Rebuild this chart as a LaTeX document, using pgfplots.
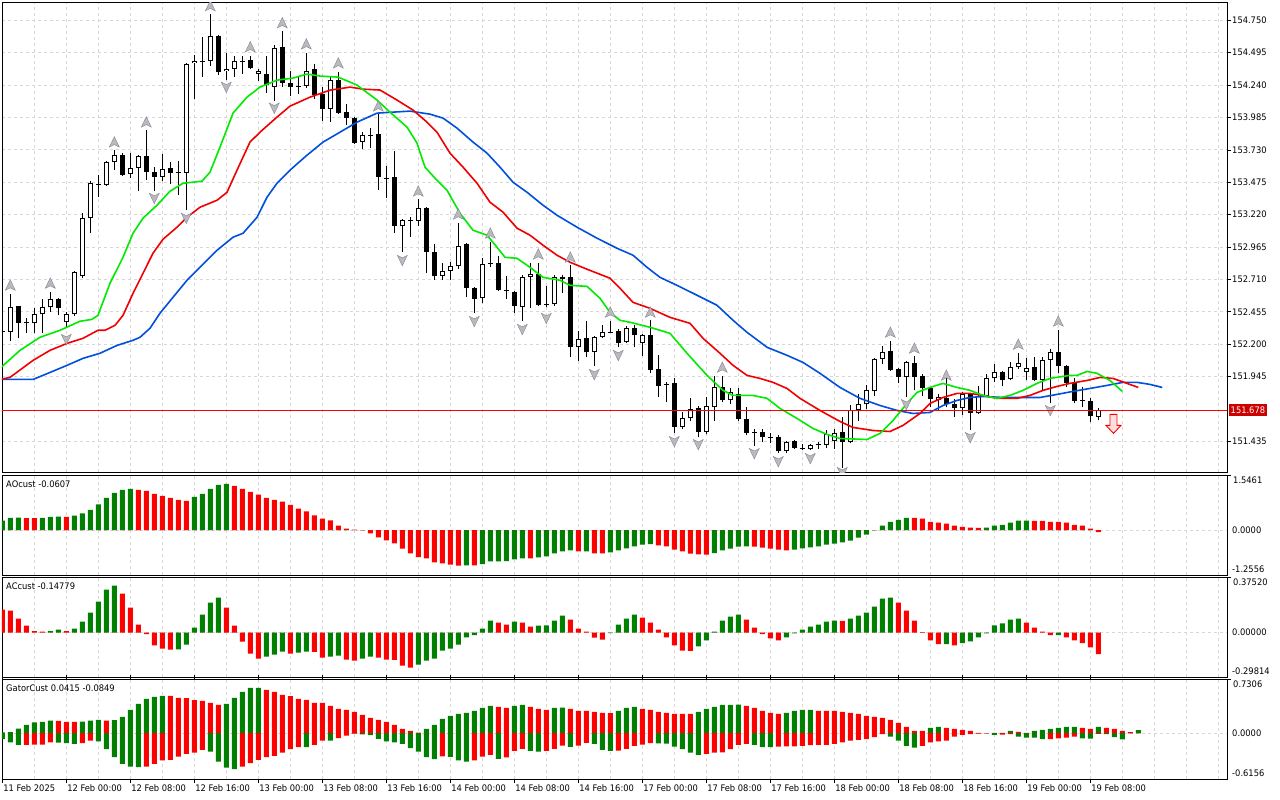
\documentclass[border=0pt]{standalone}
\usepackage{pgfplots}
\pgfplotsset{compat=1.18}
\usepackage{pgfplotstable}
\usepackage{fontspec}
\setmainfont{DejaVu Sans}[FakeStretch=0.925]
\newcommand{\lbl}{\fontsize{9pt}{10.8pt}\selectfont}
\definecolor{hgreen}{RGB}{0,128,0}
\definecolor{hred}{RGB}{255,0,0}
\definecolor{lipsc}{RGB}{0,235,0}
\definecolor{teethc}{RGB}{240,0,0}
\definecolor{jawc}{RGB}{0,80,220}
\definecolor{gridc}{RGB}{215,215,215}
\definecolor{fracfill}{RGB}{185,185,192}
\definecolor{fracdraw}{RGB}{135,135,142}
\definecolor{pricebox}{RGB}{205,0,0}

\pgfdeclareplotmark{fup}{%
 \pgfpathmoveto{\pgfqpoint{0pt}{5.5pt}}%
 \pgfpathlineto{\pgfqpoint{5pt}{-5pt}}%
 \pgfpathlineto{\pgfqpoint{0pt}{-2.5pt}}%
 \pgfpathlineto{\pgfqpoint{-5pt}{-5pt}}%
 \pgfpathclose
 \pgfusepathqfillstroke}
\pgfdeclareplotmark{fdown}{%
 \pgfpathmoveto{\pgfqpoint{0pt}{-5.5pt}}%
 \pgfpathlineto{\pgfqpoint{5pt}{5pt}}%
 \pgfpathlineto{\pgfqpoint{0pt}{2.5pt}}%
 \pgfpathlineto{\pgfqpoint{-5pt}{5pt}}%
 \pgfpathclose
 \pgfusepathqfillstroke}
\pgfdeclareplotmark{sigdown}{%
 \pgfpathmoveto{\pgfqpoint{-3.5pt}{9.5pt}}%
 \pgfpathlineto{\pgfqpoint{3.5pt}{9.5pt}}%
 \pgfpathlineto{\pgfqpoint{3.5pt}{-1.5pt}}%
 \pgfpathlineto{\pgfqpoint{7.5pt}{-1.5pt}}%
 \pgfpathlineto{\pgfqpoint{0pt}{-9.5pt}}%
 \pgfpathlineto{\pgfqpoint{-7.5pt}{-1.5pt}}%
 \pgfpathlineto{\pgfqpoint{-3.5pt}{-1.5pt}}%
 \pgfpathclose
 \pgfusepathqfillstroke}

\pgfplotstableread{
k o h l c
0 152.293 152.330 152.260 152.293
1 152.293 152.592 152.222 152.490
2 152.498 152.498 152.246 152.364
3 152.364 152.404 152.285 152.372
4 152.364 152.482 152.285 152.435
5 152.435 152.553 152.285 152.490
6 152.490 152.608 152.451 152.553
7 152.553 152.561 152.427 152.482
8 152.372 152.451 152.333 152.435
9 152.435 152.774 152.419 152.766
10 152.734 153.231 152.719 153.192
11 153.192 153.483 153.073 153.467
12 153.460 153.531 153.357 153.452
13 153.452 153.641 153.444 153.633
14 153.633 153.728 153.570 153.688
15 153.688 153.704 153.523 153.531
16 153.538 153.704 153.507 153.586
17 153.586 153.688 153.404 153.680
18 153.680 153.885 153.491 153.554
19 153.554 153.594 153.404 153.515
20 153.515 153.696 153.483 153.578
21 153.586 153.633 153.460 153.546
22 153.554 153.641 153.373 153.550
23 153.550 154.413 153.255 154.409
24 154.413 154.476 154.130 154.429
25 154.429 154.618 154.303 154.425
26 154.429 154.800 154.390 154.626
27 154.626 154.634 154.319 154.342
28 154.350 154.492 154.279 154.366
29 154.366 154.469 154.303 154.429
30 154.429 154.469 154.327 154.425
31 154.437 154.469 154.366 154.374
32 154.327 154.366 154.272 154.350
33 154.327 154.469 154.177 154.240
34 154.224 154.555 154.114 154.532
35 154.540 154.666 154.224 154.256
36 154.256 154.350 154.153 154.224
37 154.232 154.303 154.169 154.228
38 154.232 154.492 154.216 154.350
39 154.366 154.406 154.130 154.161
40 154.169 154.224 153.956 154.051
41 154.051 154.303 153.948 154.279
42 154.279 154.342 154.011 154.019
43 154.027 154.090 153.925 153.980
44 153.980 153.988 153.775 153.783
45 153.791 153.869 153.735 153.846
46 153.846 153.901 153.743 153.842
47 153.854 154.019 153.412 153.515
48 153.507 153.601 153.349 153.503
49 153.515 153.720 153.073 153.128
50 153.128 153.184 152.924 153.176
51 153.176 153.199 153.042 153.172
52 153.168 153.341 153.128 153.270
53 153.270 153.278 152.758 152.924
54 152.924 152.987 152.703 152.734
55 152.734 152.837 152.703 152.774
56 152.774 152.845 152.703 152.813
57 152.813 153.152 152.790 152.971
58 152.987 152.995 152.569 152.640
59 152.640 152.648 152.443 152.553
60 152.561 152.876 152.521 152.829
61 152.837 153.002 152.805 152.833
62 152.837 152.892 152.616 152.624
63 152.624 152.734 152.553 152.620
64 152.608 152.616 152.443 152.498
65 152.490 152.742 152.380 152.726
66 152.726 152.837 152.482 152.750
67 152.750 152.837 152.498 152.506
68 152.514 152.655 152.490 152.510
69 152.514 152.742 152.498 152.726
70 152.711 152.742 152.600 152.726
71 152.726 152.821 152.096 152.175
72 152.175 152.301 152.064 152.238
73 152.246 152.380 152.096 152.135
74 152.135 152.261 152.025 152.254
75 152.254 152.348 152.246 152.293
76 152.293 152.380 152.285 152.289
77 152.301 152.317 152.175 152.206
78 152.214 152.341 152.206 152.325
79 152.325 152.348 152.175 152.269
80 152.206 152.277 152.104 152.269
81 152.269 152.388 151.970 151.993
82 152.001 152.112 151.780 151.867
83 151.883 151.899 151.741 151.879
84 151.891 151.930 151.497 151.544
85 151.544 151.662 151.528 151.615
86 151.615 151.773 151.591 151.686
87 151.694 151.709 151.465 151.512
88 151.512 151.780 151.489 151.709
89 151.702 151.946 151.591 151.859
90 151.859 151.946 151.741 151.757
91 151.757 151.851 151.725 151.820
92 151.804 151.851 151.591 151.607
93 151.607 151.702 151.481 151.497
94 151.505 151.528 151.394 151.501
95 151.505 151.528 151.426 151.465
96 151.465 151.497 151.418 151.461
97 151.465 151.481 151.339 151.355
98 151.355 151.434 151.339 151.426
99 151.434 151.442 151.371 151.386
100 151.378 151.410 151.363 151.374
101 151.371 151.410 151.363 151.402
102 151.402 151.426 151.378 151.406
103 151.402 151.520 151.386 151.489
104 151.434 151.528 151.378 151.497
105 151.505 151.623 151.221 151.426
106 151.426 151.717 151.418 151.678
107 151.678 151.804 151.591 151.725
108 151.725 151.875 151.686 151.836
109 151.828 152.088 151.788 152.080
110 152.080 152.183 152.041 152.135
111 152.143 152.222 151.985 151.993
112 152.001 152.009 151.891 151.938
113 151.938 152.064 151.780 152.056
114 152.049 152.104 151.836 151.938
115 151.946 151.962 151.788 151.851
116 151.851 151.859 151.702 151.765
117 151.757 151.804 151.678 151.780
118 151.773 151.938 151.702 151.725
119 151.725 151.765 151.623 151.694
120 151.694 151.820 151.639 151.804
121 151.804 151.812 151.520 151.654
122 151.654 151.867 151.647 151.788
123 151.788 151.962 151.780 151.930
124 151.930 152.041 151.899 151.977
125 151.977 151.985 151.867 151.914
126 151.922 152.056 151.914 152.017
127 152.017 152.128 152.001 152.049
128 151.977 152.088 151.914 152.009
129 152.017 152.096 151.907 151.914
130 151.914 152.096 151.828 152.072
131 152.072 152.159 151.733 152.135
132 152.135 152.309 151.970 152.025
133 152.025 152.033 151.859 151.891
134 151.891 151.930 151.733 151.749
135 151.757 151.859 151.702 151.753
136 151.749 151.773 151.584 151.631
137 151.629 151.694 151.599 151.678
}\candles

\pgfplotstableread{
k v g
0 0.267 1
1 0.352 1
2 0.355 1
3 0.345 0
4 0.340 0
5 0.350 1
6 0.380 1
7 0.385 1
8 0.380 0
9 0.410 1
10 0.476 1
11 0.580 1
12 0.733 1
13 0.924 1
14 1.067 1
15 1.152 1
16 1.181 1
17 1.152 0
18 1.124 0
19 1.038 0
20 0.981 0
21 0.924 0
22 0.867 0
23 0.838 0
24 0.952 1
25 1.038 1
26 1.181 1
27 1.295 1
28 1.324 1
29 1.267 0
30 1.181 0
31 1.095 0
32 1.010 0
33 0.924 0
34 0.867 0
35 0.810 0
36 0.724 0
37 0.610 0
38 0.533 0
39 0.419 0
40 0.324 0
41 0.276 0
42 0.124 0
43 0.038 0
44 0.010 0
45 -0.010 0
46 -0.095 0
47 -0.210 0
48 -0.295 0
49 -0.381 0
50 -0.533 0
51 -0.667 0
52 -0.771 0
53 -0.810 0
54 -0.924 0
55 -0.952 0
56 -0.990 0
57 -1.019 0
58 -1.010 1
59 -1.011 0
60 -0.971 1
61 -0.895 1
62 -0.893 1
63 -0.890 1
64 -0.838 1
65 -0.810 1
66 -0.812 0
67 -0.781 1
68 -0.752 1
69 -0.667 1
70 -0.610 1
71 -0.581 1
72 -0.610 0
73 -0.608 1
74 -0.667 0
75 -0.668 0
76 -0.638 1
77 -0.581 1
78 -0.524 1
79 -0.467 1
80 -0.419 1
81 -0.400 1
82 -0.438 0
83 -0.467 0
84 -0.562 0
85 -0.610 0
86 -0.676 0
87 -0.695 0
88 -0.705 0
89 -0.657 1
90 -0.581 1
91 -0.533 1
92 -0.476 1
93 -0.467 1
94 -0.476 0
95 -0.505 0
96 -0.533 0
97 -0.562 0
98 -0.581 0
99 -0.562 1
100 -0.524 1
101 -0.495 1
102 -0.467 1
103 -0.419 1
104 -0.390 1
105 -0.352 1
106 -0.305 1
107 -0.219 1
108 -0.133 1
109 -0.010 1
110 0.124 1
111 0.238 1
112 0.295 1
113 0.352 1
114 0.350 0
115 0.324 0
116 0.238 0
117 0.210 0
118 0.181 0
119 0.124 0
120 0.095 0
121 0.067 0
122 0.065 0
123 0.067 1
124 0.124 1
125 0.152 1
126 0.210 1
127 0.267 1
128 0.270 1
129 0.265 0
130 0.260 0
131 0.238 0
132 0.235 0
133 0.210 0
134 0.152 0
135 0.124 0
136 0.038 0
137 -0.0607 0
}\aodata

\pgfplotstableread{
k v g
0 0.158 0
1 0.151 0
2 0.096 0
3 0.048 0
4 0.011 0
5 0.007 0
6 0.011 1
7 0.021 1
8 0.011 0
9 0.027 1
10 0.076 1
11 0.137 1
12 0.213 1
13 0.295 1
14 0.323 1
15 0.268 0
16 0.172 0
17 0.055 0
18 -0.011 0
19 -0.087 0
20 -0.110 0
21 -0.117 0
22 -0.115 1
23 -0.082 1
24 0.034 1
25 0.124 1
26 0.206 1
27 0.240 1
28 0.172 0
29 0.048 0
30 -0.062 0
31 -0.144 0
32 -0.179 0
33 -0.165 1
34 -0.151 1
35 -0.131 1
36 -0.144 0
37 -0.137 1
38 -0.131 1
39 -0.133 0
40 -0.172 0
41 -0.165 1
42 -0.158 1
43 -0.186 0
44 -0.192 0
45 -0.179 1
46 -0.165 1
47 -0.172 0
48 -0.186 0
49 -0.187 0
50 -0.227 0
51 -0.240 0
52 -0.220 1
53 -0.192 1
54 -0.179 1
55 -0.124 1
56 -0.110 1
57 -0.082 1
58 -0.032 1
59 -0.018 1
60 0.027 1
61 0.082 1
62 0.069 0
63 0.055 0
64 0.076 1
65 0.069 0
66 0.041 0
67 0.048 1
68 0.049 1
69 0.082 1
70 0.117 1
71 0.089 0
72 0.027 0
73 0.007 0
74 -0.034 0
75 -0.048 0
76 -0.004 1
77 0.055 1
78 0.096 1
79 0.124 1
80 0.103 0
81 0.069 0
82 0.021 0
83 -0.032 0
84 -0.087 0
85 -0.124 0
86 -0.125 0
87 -0.094 1
88 -0.053 1
89 0.007 1
90 0.082 1
91 0.110 1
92 0.124 1
93 0.089 0
94 0.034 0
95 -0.011 0
96 -0.039 0
97 -0.053 0
98 -0.032 1
99 -0.005 1
100 0.021 1
101 0.041 1
102 0.055 1
103 0.076 1
104 0.082 1
105 0.081 0
106 0.096 1
107 0.117 1
108 0.137 1
109 0.179 1
110 0.234 1
111 0.240 1
112 0.206 0
113 0.151 0
114 0.082 0
115 0.004 0
116 -0.053 0
117 -0.080 0
118 -0.079 1
119 -0.087 0
120 -0.073 1
121 -0.060 1
122 -0.032 1
123 -0.005 1
124 0.050 1
125 0.064 1
126 0.089 1
127 0.096 1
128 0.069 0
129 0.034 0
130 0.007 0
131 -0.018 0
132 -0.017 1
133 -0.032 0
134 -0.053 0
135 -0.073 0
136 -0.101 0
137 -0.14779 0
}\acdata

\pgfplotstableread{
k u ug d dg
0 0.010 1 -0.082 1
1 0.014 1 -0.128 1
2 0.064 1 -0.160 1
3 0.114 1 -0.159 0
4 0.147 1 -0.158 0
5 0.156 1 -0.157 0
6 0.174 1 -0.128 0
7 0.169 0 -0.130 1
8 0.156 0 -0.137 1
9 0.155 0 -0.147 1
10 0.158 1 -0.137 0
11 0.174 1 -0.101 0
12 0.183 1 -0.114 1
13 0.174 0 -0.220 1
14 0.178 1 -0.330 1
15 0.224 1 -0.421 1
16 0.320 1 -0.458 1
17 0.403 1 -0.467 1
18 0.472 1 -0.458 0
19 0.499 1 -0.421 0
20 0.513 1 -0.375 0
21 0.512 0 -0.366 0
22 0.485 0 -0.321 0
23 0.481 0 -0.284 0
24 0.453 0 -0.266 0
25 0.444 0 -0.229 0
26 0.417 0 -0.252 1
27 0.389 0 -0.389 1
28 0.403 1 -0.472 1
29 0.485 1 -0.494 1
30 0.568 1 -0.458 0
31 0.623 1 -0.412 0
32 0.624 1 -0.366 0
33 0.595 0 -0.330 0
34 0.568 0 -0.311 0
35 0.527 0 -0.266 0
36 0.508 0 -0.220 0
37 0.472 0 -0.192 0
38 0.458 0 -0.193 1
39 0.417 0 -0.160 0
40 0.416 0 -0.101 0
41 0.375 0 -0.102 1
42 0.334 0 -0.069 0
43 0.320 0 -0.032 0
44 0.293 0 -0.005 0
45 0.252 0 -0.015 1
46 0.211 0 -0.025 1
47 0.183 0 -0.078 1
48 0.156 0 -0.114 1
49 0.114 0 -0.128 1
50 0.060 0 -0.147 1
51 0.032 0 -0.206 1
52 0.008 0 -0.252 1
53 0.060 1 -0.330 1
54 0.114 1 -0.357 1
55 0.197 1 -0.320 0
56 0.238 1 -0.325 1
57 0.266 1 -0.375 1
58 0.279 1 -0.389 1
59 0.307 1 -0.375 0
60 0.348 1 -0.321 0
61 0.375 1 -0.298 0
62 0.362 0 -0.353 1
63 0.348 0 -0.334 0
64 0.375 1 -0.243 0
65 0.389 1 -0.215 0
66 0.362 0 -0.243 1
67 0.334 0 -0.252 1
68 0.320 0 -0.243 0
69 0.348 1 -0.215 0
70 0.350 1 -0.170 0
71 0.334 0 -0.188 1
72 0.307 0 -0.170 0
73 0.305 0 -0.133 0
74 0.293 0 -0.146 1
75 0.279 0 -0.229 1
76 0.277 0 -0.243 1
77 0.307 1 -0.240 0
78 0.348 1 -0.215 0
79 0.362 1 -0.174 0
80 0.334 0 -0.156 0
81 0.320 0 -0.137 0
82 0.293 0 -0.140 1
83 0.279 0 -0.142 1
84 0.266 0 -0.183 1
85 0.265 0 -0.220 1
86 0.264 0 -0.266 1
87 0.293 1 -0.297 1
88 0.334 1 -0.284 0
89 0.362 1 -0.266 0
90 0.389 1 -0.265 0
91 0.390 1 -0.220 0
92 0.391 1 -0.160 0
93 0.375 0 -0.147 0
94 0.348 0 -0.160 1
95 0.307 0 -0.192 1
96 0.279 0 -0.193 1
97 0.266 0 -0.183 0
98 0.279 1 -0.182 0
99 0.307 1 -0.181 0
100 0.320 1 -0.174 0
101 0.321 1 -0.165 0
102 0.307 0 -0.160 0
103 0.306 0 -0.159 0
104 0.305 0 -0.147 0
105 0.293 0 -0.128 0
106 0.279 0 -0.101 0
107 0.266 0 -0.092 0
108 0.238 0 -0.082 0
109 0.224 0 -0.055 0
110 0.211 0 -0.014 0
111 0.183 0 -0.046 1
112 0.142 0 -0.101 1
113 0.087 0 -0.174 1
114 0.032 0 -0.197 1
115 0.031 0 -0.174 0
116 0.073 1 -0.128 0
117 0.087 1 -0.114 0
118 0.073 0 -0.101 0
119 0.060 0 -0.046 0
120 0.046 0 -0.023 0
121 0.032 0 -0.014 0
122 0.005 0 -0.005 0
123 0.002 0 -0.003 0
124 0.004 1 -0.023 1
125 0.005 1 -0.020 0
126 0.032 1 -0.014 0
127 0.018 0 -0.046 1
128 0.005 0 -0.060 1
129 0.032 1 -0.061 1
130 0.046 1 -0.082 1
131 0.060 1 -0.081 0
132 0.073 1 -0.073 0
133 0.087 1 -0.060 0
134 0.088 1 -0.046 0
135 0.073 0 -0.073 1
136 0.060 0 -0.074 1
137 0.087 1 -0.009 0
138 0.073 0 -0.014 1
139 0.060 0 -0.055 1
140 0.030 0 -0.085 1
141 0.014 0 0 0
142 0.0415 1 0 0
}\gatordata

\pgfplotsset{
  panel/.style={
    scale only axis, width=1225pt, xmin=-0.0375, xmax=153.09,
    axis line style={black, line width=0.8pt},
    xtick={4,8,...,152}, xticklabels={}, xtick style={draw=none},
    xmajorgrids, ymajorgrids,
    major grid style={gridc, dash pattern=on 3pt off 3pt, line width=0.7pt},
    ytick pos=right, yticklabel pos=right, tick align=outside, major tick length=4pt,
    ytick style={black, line width=0.6pt},
    tick label style={font=\lbl},
    yticklabel style={anchor=west, inner sep=1pt},
    clip mode=individual,
  },
  sub/.style={ytick style={draw=none}, extra y ticks={#1}, extra y tick labels={},
    extra y tick style={grid=none, ytick style={draw=black, line width=0.6pt}}},
  hist/.style={ybar, bar width=5pt, bar shift=0pt},
  zline/.style={gridc, dash pattern=on 3pt off 3pt, line width=0.7pt, forget plot},
  ebar/.style 2 args={draw=none, no markers, forget plot,
    error bars/.cd, y dir=plus, y explicit, error mark=none,
    error bar style={draw=#1, line width=#2}},
}

\begin{document}
\begin{tikzpicture}[x=1pt,y=1pt]
\fill[white] (0,0) rectangle (1280,800);
\path[use as bounding box] (0,0) rectangle (1280,800);

% ---------------- main price panel ----------------
\begin{axis}[panel, at={(2pt,327.5pt)}, anchor=south west, height=470pt,
  ymin=151.1892, ymax=154.8904,
  ytick={151.435,151.945,152.200,152.455,152.710,152.965,153.220,153.475,153.730,153.985,154.240,154.495,154.750},
  yticklabels={151.435,151.945,152.200,152.455,152.710,152.965,153.220,153.475,153.730,153.985,154.240,154.495,154.750},
  clip marker paths=true]
% wicks
\addplot[ebar={black}{1pt}]
  table[x=k, y=l, y error plus expr={\thisrow{h}-\thisrow{l}}] {\candles};
% bodies (black)
\addplot[ebar={black}{5pt}]
  table[x=k, y expr={min(\thisrow{o},\thisrow{c})}, y error plus expr={max(abs(\thisrow{c}-\thisrow{o}),0.0079)}] {\candles};
% bull bodies (white inside)
\addplot[ebar={white}{3pt}]
  table[x=k, y expr={\thisrow{o}+0.0079}, y error plus expr={max(\thisrow{c}-\thisrow{o}-0.0158,0)}] {\candles};

% Alligator: jaw (blue)
\addplot[jawc, line width=1.6pt, line join=round] coordinates {
(-0.29,151.922) (3.84,151.922) (5.96,151.977) (8.09,152.033) (10.09,152.088) (12.21,152.128)
(14.34,152.190) (16.34,152.230) (17.21,152.254) (18.46,152.325) (19.71,152.443) (21.34,152.569)
(23.09,152.703) (24.71,152.805) (26.84,152.939) (28.84,153.042) (30.09,153.073) (31.84,153.199)
(33.09,153.357) (34.34,153.467) (35.96,153.570) (38.09,153.688) (40.09,153.791) (42.21,153.869)
(44.34,153.948) (46.84,154.019) (48.84,154.027) (50.96,154.035) (53.46,154.011) (55.09,153.980)
(56.84,153.901) (58.84,153.791) (60.59,153.704) (62.21,153.594) (63.84,153.475) (65.59,153.396)
(67.59,153.294) (69.34,153.215) (71.84,153.121) (74.34,153.034) (76.84,152.955) (78.84,152.900)
(80.59,152.805) (82.21,152.726) (84.34,152.663) (86.84,152.585) (89.34,152.506) (91.34,152.388)
(93.09,152.293) (95.59,152.175) (98.09,152.112) (100.09,152.056) (102.21,151.970) (104.71,151.859)
(107.21,151.773) (109.71,151.717) (111.84,151.678) (113.84,151.654) (115.96,151.662) (117.59,151.717)
(119.34,151.757) (120.96,151.780) (122.59,151.788) (125.09,151.780) (127.59,151.780) (129.71,151.780)
(131.84,151.804) (133.84,151.828) (135.96,151.851) (138.09,151.875) (140.09,151.899) (141.84,151.899)
(143.46,151.883) (145,151.859)};
% teeth (red)
\addplot[teethc, line width=1.6pt, line join=round] coordinates {
(-0.29,151.922) (0.96,151.938) (3.84,152.072) (5.96,152.151) (8.09,152.206) (10.09,152.246)
(11.96,152.309) (12.84,152.309) (14.09,152.348) (15.09,152.427) (16.34,152.600) (17.59,152.758)
(18.84,152.916) (20.09,153.026) (21.84,153.121) (23.09,153.199) (24.71,153.278) (26.84,153.333)
(28.09,153.396) (29.34,153.570) (30.96,153.791) (32.21,153.869) (34.34,153.988) (35.96,154.074)
(38.46,154.145) (40.96,154.200) (43.46,154.224) (45.09,154.208) (47.21,154.201) (49.34,154.122)
(51.34,154.043) (53.09,153.948) (54.34,153.869) (55.96,153.704) (57.59,153.594) (59.34,153.467)
(60.96,153.318) (62.59,153.239) (64.34,153.113) (65.96,153.058) (67.59,152.979) (69.34,152.900)
(70.96,152.845) (73.09,152.790) (74.71,152.750) (75.96,152.719) (77.21,152.640) (78.84,152.529)
(80.96,152.482) (83.46,152.411) (85.96,152.364) (87.59,152.246) (89.71,152.128) (91.34,152.033)
(93.09,151.954) (94.71,151.930) (96.34,151.899) (98.09,151.851) (99.71,151.773) (102.21,151.678)
(104.71,151.591) (106.34,151.544) (108.84,151.520) (110.96,151.512) (112.59,151.560) (114.71,151.654)
(115.96,151.733) (117.59,151.780) (119.34,151.812) (120.96,151.812) (122.59,151.796) (124.34,151.773)
(126.84,151.773) (128.46,151.796) (130.09,151.836) (131.84,151.867) (133.46,151.891) (135.59,151.914)
(137.21,151.938) (138.84,151.930) (140.59,151.891) (142,151.859)};
% lips (green)
\addplot[lipsc, line width=1.6pt, line join=round] coordinates {
(-0.29,152.009) (2.21,152.151) (4.71,152.254) (7.21,152.309) (9.71,152.380) (11.21,152.395)
(11.96,152.427) (13.46,152.679) (15.09,152.884) (16.34,153.073) (17.59,153.192) (19.34,153.294)
(20.96,153.404) (22.59,153.467) (24.96,153.483) (25.96,153.554) (27.21,153.751) (28.84,154.019)
(30.59,154.145) (32.21,154.224) (34.34,154.279) (36.34,154.295) (38.09,154.327) (39.71,154.311)
(41.96,154.303) (44.34,154.240) (46.84,154.122) (48.46,154.027) (50.59,153.909) (51.84,153.783)
(52.84,153.594) (54.09,153.507) (55.59,153.412) (57.21,153.231) (58.84,153.097) (60.59,153.058)
(61.84,152.963) (62.84,152.884) (64.34,152.876) (65.96,152.805) (67.59,152.726) (69.71,152.703)
(70.96,152.663) (73.09,152.655) (74.71,152.561) (75.96,152.451) (77.21,152.388) (78.46,152.372)
(80.96,152.333) (83.46,152.285) (85.59,152.128) (88.09,151.954) (90.09,151.836) (91.34,151.796)
(93.84,151.796) (95.59,151.773) (97.21,151.694) (99.34,151.615) (101.34,151.536) (103.09,151.489)
(104.71,151.457) (108.09,151.449) (109.71,151.497) (111.34,151.599) (113.09,151.733) (114.34,151.820)
(115.96,151.859) (117.59,151.891) (119.34,151.859) (120.96,151.836) (122.59,151.796) (124.34,151.773)
(125.96,151.796) (127.59,151.836) (129.34,151.891) (130.96,151.930) (133.46,151.954) (134.34,151.954)
(135.59,151.985) (136.84,151.970) (138.46,151.914) (140,151.828)};

% fractal arrows
\addplot[only marks, mark=fup, mark options={fill=fracfill, draw=fracdraw, line width=0.4pt}] coordinates {
(1,152.663) (6,152.679) (14,153.791) (18,153.948) (26,154.863) (31,154.540) (35,154.729) (38,154.563)
(42,154.413) (47,154.074) (52,153.404) (57,153.223) (61,153.073) (67,152.908) (71,152.884) (76,152.451)
(81,152.451) (90,152.017) (111,152.293) (114,152.167) (118,151.954) (127,152.198) (132,152.380)};
\addplot[only marks, mark=fdown, mark options={fill=fracfill, draw=fracdraw, line width=0.4pt}] coordinates {
(8,152.238) (19,153.349) (23,153.192) (28,154.224) (34,154.059) (50,152.860) (59,152.380) (65,152.317)
(68,152.404) (74,151.962) (77,152.112) (84,151.434) (87,151.410) (94,151.339) (97,151.276) (101,151.300)
(105,151.190) (113,151.725) (121,151.465) (131,151.678)};

% current price line
\addplot[red, line width=0.8pt] coordinates {(-1,151.678) (160,151.678)};
% signal arrow
\addplot[only marks, mark=sigdown, mark options={fill=red!12, draw=red, line width=0.9pt}] coordinates {(138.9,151.572)};

\node[fill=pricebox, text=white, anchor=west, inner xsep=2pt, inner ysep=0pt,
  minimum height=12pt, font=\lbl, xshift=1.5pt] at (axis cs:153.09,151.678) {151.678};
\end{axis}

% ---------------- AO panel ----------------
\begin{axis}[panel, sub=1.5747, hist, at={(2pt,225pt)}, anchor=south west, height=100pt,
  ymin=-1.2842, ymax=1.5747, ytick={0}, yticklabels={0.0000}]
\addplot[hist, fill=hgreen, draw=none] table[x=k, y expr={\thisrow{v}*\thisrow{g}}] {\aodata};
\addplot[hist, fill=hred, draw=none] table[x=k, y expr={\thisrow{v}*(1-\thisrow{g})}] {\aodata};
\addplot[zline] coordinates {(-1,0) (160,0)};
\node[anchor=west, inner sep=0pt, font=\lbl, xshift=4pt, yshift=-9.3pt] at (rel axis cs:0,1) {AOcust -0.0607};
\node[anchor=west, inner sep=0pt, font=\lbl, xshift=6pt] at (rel axis cs:1,0.943) {1.5461};
\node[anchor=west, inner sep=0pt, font=\lbl, xshift=5pt] at (rel axis cs:1,0.057) {-1.2556};
\end{axis}

% ---------------- AC panel ----------------
\begin{axis}[panel, sub=0.38207, hist, at={(2pt,123pt)}, anchor=south west, height=100pt,
  ymin=-0.30501, ymax=0.38207, ytick={0}, yticklabels={0.00000}]
\addplot[hist, fill=hgreen, draw=none] table[x=k, y expr={\thisrow{v}*\thisrow{g}}] {\acdata};
\addplot[hist, fill=hred, draw=none] table[x=k, y expr={\thisrow{v}*(1-\thisrow{g})}] {\acdata};
\addplot[zline] coordinates {(-1,0) (160,0)};
\node[anchor=west, inner sep=0pt, font=\lbl, xshift=4pt, yshift=-9.3pt] at (rel axis cs:0,1) {ACcust -0.14779};
\node[anchor=west, inner sep=0pt, font=\lbl, xshift=6pt] at (rel axis cs:1,0.943) {0.37520};
\node[anchor=west, inner sep=0pt, font=\lbl, xshift=5pt] at (rel axis cs:1,0.053) {-0.29814};
\end{axis}

% ---------------- Gator panel ----------------
\begin{axis}[panel, hist, at={(2pt,21pt)}, anchor=south west, height=100pt,
  ymin=-0.62934, ymax=0.74434, ytick={0}, yticklabels={0.0000},
  ytick style={draw=none},
  extra y ticks={0.74434}, extra y tick labels={},
  extra y tick style={grid=none, ytick style={draw=black, line width=0.6pt}},
  extra x ticks={0,8,...,136},
  extra x tick labels={11 Feb 2025,12 Feb 00:00,12 Feb 08:00,12 Feb 16:00,13 Feb 00:00,13 Feb 08:00,13 Feb 16:00,14 Feb 00:00,14 Feb 08:00,14 Feb 16:00,17 Feb 00:00,17 Feb 08:00,17 Feb 16:00,18 Feb 00:00,18 Feb 08:00,18 Feb 16:00,19 Feb 00:00,19 Feb 08:00},
  extra x tick style={grid=none, xtick style={draw=black, line width=0.6pt},
    xticklabel style={anchor=north west, inner sep=0pt, xshift=0.8pt, yshift=-1.5pt}}]
\addplot[hist, fill=hgreen, draw=none] table[x=k, y expr={\thisrow{u}*\thisrow{ug}}] {\gatordata};
\addplot[hist, fill=hred, draw=none] table[x=k, y expr={\thisrow{u}*(1-\thisrow{ug})}] {\gatordata};
\addplot[hist, fill=hgreen, draw=none] table[x=k, y expr={\thisrow{d}*\thisrow{dg}}] {\gatordata};
\addplot[hist, fill=hred, draw=none] table[x=k, y expr={\thisrow{d}*(1-\thisrow{dg})}] {\gatordata};
\addplot[zline] coordinates {(-1,0) (160,0)};
\node[anchor=west, inner sep=0pt, font=\lbl, xshift=4pt, yshift=-9.3pt] at (rel axis cs:0,1) {GatorCust 0.0415 -0.0849};
\node[anchor=west, inner sep=0pt, font=\lbl, xshift=6pt] at (rel axis cs:1,0.947) {0.7306};
\node[anchor=west, inner sep=0pt, font=\lbl, xshift=5pt] at (rel axis cs:1,0.053) {-0.6156};
\end{axis}
\end{tikzpicture}
\end{document}
